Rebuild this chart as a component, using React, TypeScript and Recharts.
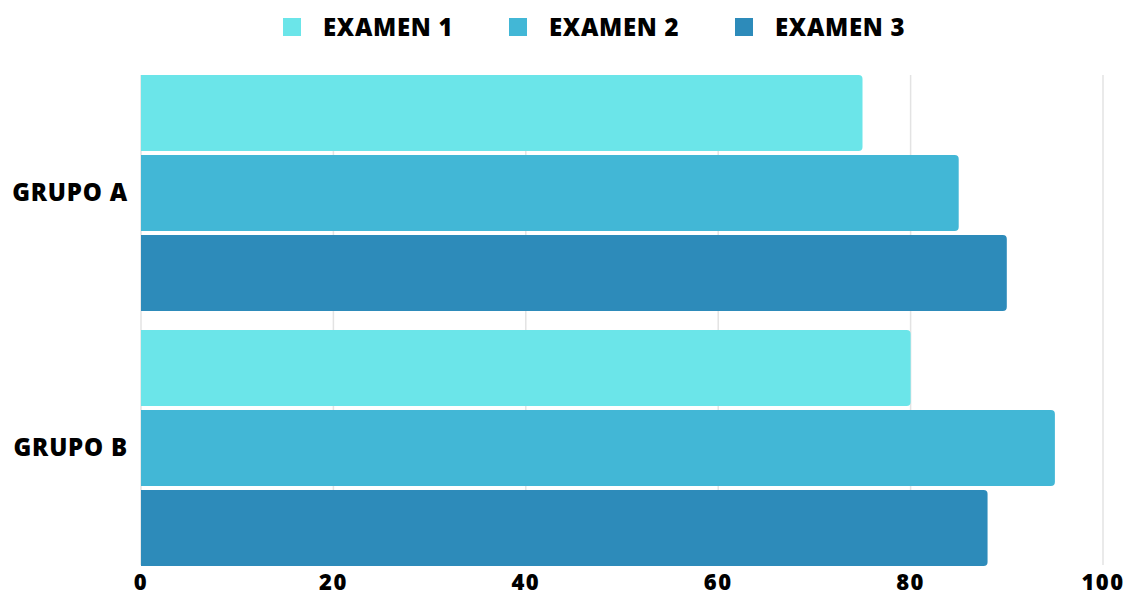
import { BarChart, Bar, XAxis, YAxis, CartesianGrid, Legend } from 'recharts';

const GROUPS = ['GRUPO A', 'GRUPO B'];
const EXAMEN_1 = [75, 80];
const EXAMEN_2 = [85, 95];
const EXAMEN_3 = [90, 88];
const X_TICKS = [0, 20, 40, 60, 80, 100];

const SERIES = [
    { key: 'examen1', name: 'EXAMEN 1', color: '#6BE5E9' },
    { key: 'examen2', name: 'EXAMEN 2', color: '#42B7D6' },
    { key: 'examen3', name: 'EXAMEN 3', color: '#2D8BBA' },
];

const data = GROUPS.map((g, i) => ({
    group: g,
    examen1: EXAMEN_1[i],
    examen2: EXAMEN_2[i],
    examen3: EXAMEN_3[i],
}));

const FONT = '"Open Sans", sans-serif';

function TopLegend() {
    return (
        <div style={{ height: 75, display: 'flex', alignItems: 'flex-start', paddingLeft: 283, boxSizing: 'border-box' }}>
            {SERIES.map((s) => (
                <div key={s.key} style={{ display: 'flex', alignItems: 'center', width: 226, marginTop: 9 }}>
                    <span style={{ width: 18, height: 18, background: s.color, display: 'inline-block', flexShrink: 0 }} />
                    <span
                        style={{
                            marginLeft: 22,
                            fontFamily: FONT,
                            fontWeight: 800,
                            fontSize: 24,
                            letterSpacing: 0.7,
                            color: '#000',
                            lineHeight: '36px',
                            whiteSpace: 'nowrap',
                        }}
                    >
                        {s.name}
                    </span>
                </div>
            ))}
        </div>
    );
}

export default function App() {
    return (
        <div style={{ position: 'absolute', left: 0, top: 0, width: 1130, height: 596, background: '#fff', fontFamily: FONT }}>
            <BarChart
                width={1130}
                height={596}
                data={data}
                layout="vertical"
                margin={{ top: 0, right: 27, bottom: 0, left: 0 }}
                barCategoryGap={10}
                barGap={4}
            >
                <CartesianGrid horizontal={false} stroke="#e3e3e3" strokeWidth={1.5} />
                <XAxis
                    type="number"
                    domain={[0, 100]}
                    ticks={X_TICKS}
                    axisLine={false}
                    tickLine={false}
                    height={31}
                    tickMargin={3}
                    tick={{ fill: '#000', fontSize: 22, fontWeight: 800, fontFamily: FONT, letterSpacing: 1.5 }}
                />
                <YAxis
                    type="category"
                    dataKey="group"
                    width={141}
                    axisLine={false}
                    tickLine={false}
                    tickMargin={7}
                    padding={{ top: -10, bottom: -10 }}
                    tick={{ fill: '#000', fontSize: 24, fontWeight: 800, fontFamily: FONT, letterSpacing: 0.8 }}
                />
                <Legend verticalAlign="top" content={<TopLegend />} />
                {SERIES.map((s) => (
                    <Bar
                        key={s.key}
                        dataKey={s.key}
                        name={s.name}
                        fill={s.color}
                        radius={[0, 4, 4, 0]}
                        isAnimationActive={false}
                    />
                ))}
            </BarChart>
        </div>
    );
}
